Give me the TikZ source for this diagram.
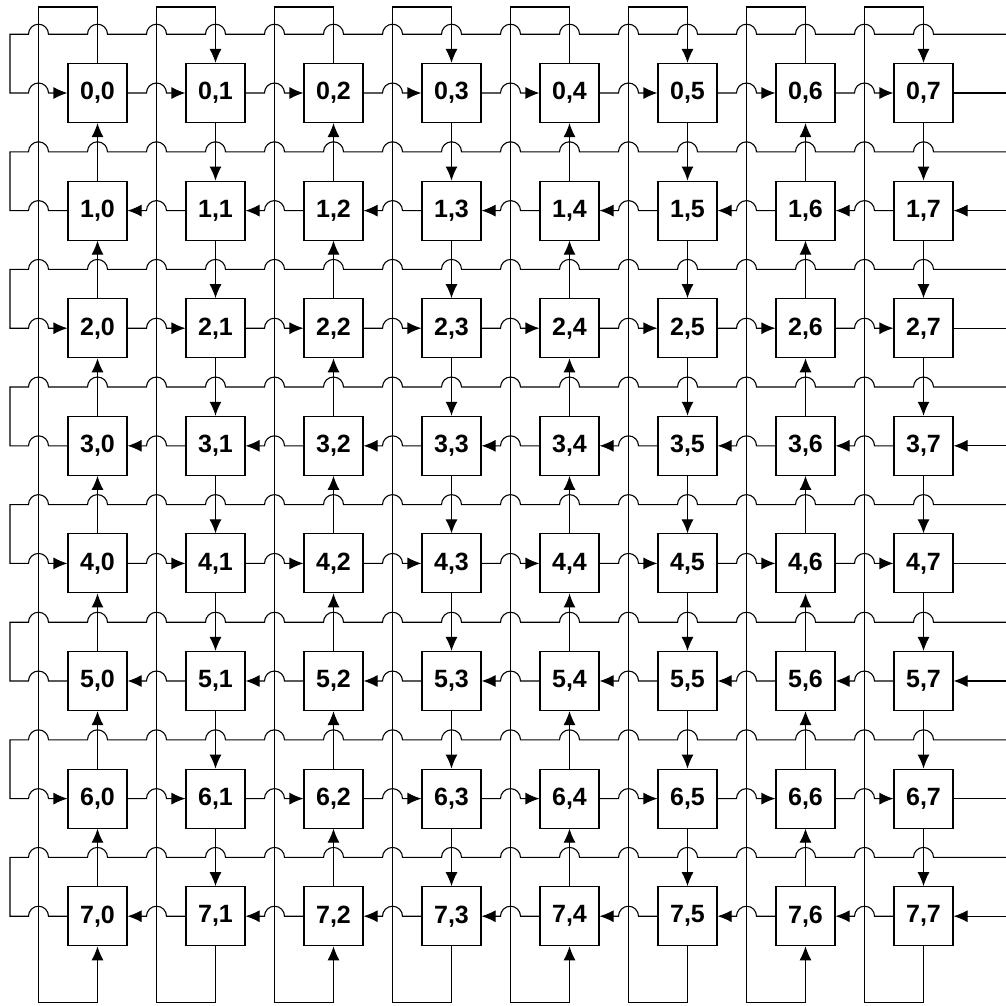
\documentclass[tikz,border=0pt]{standalone}
\usepackage{fontspec}
\setmainfont{Liberation Sans}
\usetikzlibrary{arrows.meta}
\begin{document}
\begin{tikzpicture}[x=1pt,y=-1pt,line width=1.1pt,
  nbox/.style={draw,fill=white,minimum size=59pt,inner sep=0pt,font=\fontsize{25}{25}\selectfont\bfseries},
  arr/.style={-{Latex[length=14pt,width=12pt]}},
  plain/.style={}]
\useasboundingbox (0,0) rectangle (1006,1005);
% nodes
\foreach \i in {0,...,7}{
  \foreach \j in {0,...,7}{
    \node[nbox] (n-\i-\j) at ({97.5+118*\j},{93+117.6*\i}) {\i,\j};
  }}
% rows
\foreach \i in {0,...,7}{
  \pgfmathsetmacro\yy{93+117.6*\i}
  \pgfmathsetmacro\YY{\yy-58.8}
  \ifodd\i \tikzset{rowtip/.style={plain}}\else\tikzset{rowtip/.style={arr}}\fi
  % wrap line above the row, from the right edge round the left side into the row
  \draw[rowtip] (1006,\YY) foreach \k in {15,14,...,0}{ -- ({38.5+59*\k+10},\YY) arc(0:180:10pt) }
     -- (10,\YY) -- (10,\yy) -- (28.5,\yy) arc(180:0:10pt) -- (n-\i-0.west);
  % links between neighbours in the row
  \foreach \j in {0,...,6}{
    \pgfmathtruncatemacro\jn{\j+1}
    \pgfmathsetmacro\bx{38.5+118*\jn}
    \ifodd\i
      \draw[arr] (n-\i-\jn.west) -- ({\bx+10},\yy) arc(0:180:10pt) -- (n-\i-\j.east);
    \else
      \draw[arr] (n-\i-\j.east) -- ({\bx-10},\yy) arc(180:0:10pt) -- (n-\i-\jn.west);
    \fi
  }
  % right end
  \ifodd\i
    \draw[arr] (1006,\yy) -- (n-\i-7.east);
  \else
    \draw (n-\i-7.east) -- (1006,\yy);
  \fi
}
% columns
\foreach \j in {0,...,7}{
  \pgfmathsetmacro\XX{38.5+118*\j}
  \foreach \i in {0,...,6}{
    \pgfmathtruncatemacro\inx{\i+1}
    \ifodd\j
      \draw[arr] (n-\i-\j.south) -- (n-\inx-\j.north);
    \else
      \draw[arr] (n-\inx-\j.north) -- (n-\i-\j.south);
    \fi
  }
  \ifodd\j
    \draw[arr] (n-7-\j.south) |- (\XX,1002.5) -- (\XX,7) -| (n-0-\j.north);
  \else
    \draw[arr] (n-0-\j.north) |- (\XX,7) -- (\XX,1002.5) -| (n-7-\j.south);
  \fi
}
\end{tikzpicture}
\end{document}
